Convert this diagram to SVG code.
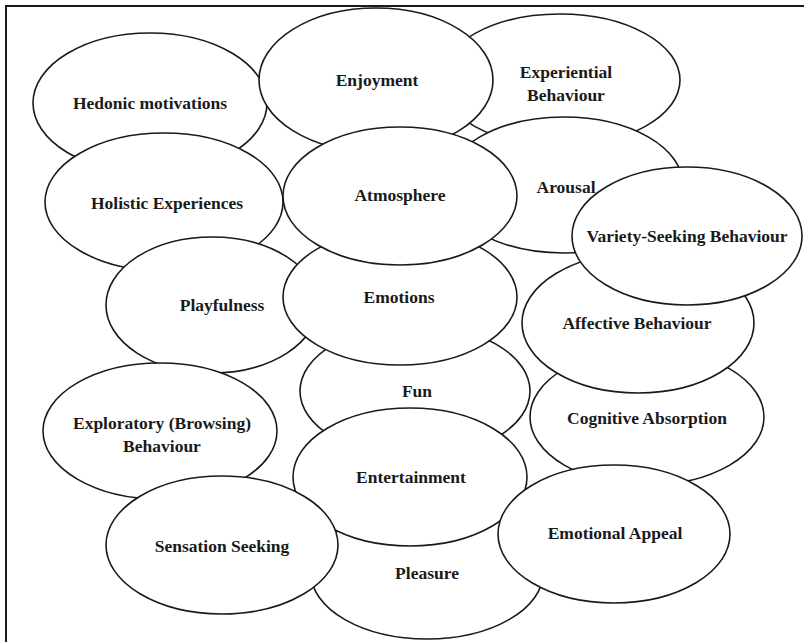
<svg xmlns="http://www.w3.org/2000/svg" width="804" height="642" viewBox="0 0 804 642">
<style>
  .bg { fill: #ffffff; }
  .frame { fill: none; stroke: #1a1a1a; stroke-width: 2; }
  .node ellipse { fill: #ffffff; stroke: #1a1a1a; stroke-width: 1.6; }
  .node text { font-family: "Liberation Serif", "Times New Roman", serif; font-weight: bold; font-size: 17.5px; fill: #1a1a1a; text-anchor: middle; }
</style>
<rect class="bg" x="0" y="0" width="804" height="642"/>
<rect class="frame" x="6" y="6" width="810" height="650"/>
<g id="connectors"></g>
<g id="hedonic" class="node"><ellipse cx="150" cy="103" rx="117" ry="70"/><text x="150" y="109">Hedonic motivations</text></g>
<g id="experiential" class="node"><ellipse cx="560" cy="80" rx="120" ry="66"/><text x="566" y="78">Experiential</text><text x="566" y="101">Behaviour</text></g>
<g id="enjoyment" class="node"><ellipse cx="376" cy="80" rx="117" ry="72"/><text x="377" y="86">Enjoyment</text></g>
<g id="arousal" class="node"><ellipse cx="564" cy="185" rx="119" ry="68"/><text x="566" y="193">Arousal</text></g>
<g id="holistic" class="node"><ellipse cx="164" cy="202" rx="119" ry="69"/><text x="167" y="209">Holistic Experiences</text></g>
<g id="playfulness" class="node"><ellipse cx="212" cy="305" rx="106" ry="68"/><text x="222" y="311">Playfulness</text></g>
<g id="fun" class="node"><ellipse cx="415" cy="391" rx="115" ry="66"/><text x="417" y="397">Fun</text></g>
<g id="emotions" class="node"><ellipse cx="400" cy="297" rx="117" ry="68"/><text x="399" y="303">Emotions</text></g>
<g id="atmosphere" class="node"><ellipse cx="400" cy="196" rx="117" ry="69"/><text x="400" y="201">Atmosphere</text></g>
<g id="cognitive" class="node"><ellipse cx="647" cy="417" rx="117" ry="68"/><text x="647" y="424">Cognitive Absorption</text></g>
<g id="affective" class="node"><ellipse cx="638" cy="323" rx="116" ry="70"/><text x="637" y="329">Affective Behaviour</text></g>
<g id="variety" class="node"><ellipse cx="687" cy="236" rx="115" ry="69"/><text x="687" y="242">Variety-Seeking Behaviour</text></g>
<g id="exploratory" class="node"><ellipse cx="160" cy="431" rx="117" ry="68"/><text x="162" y="429">Exploratory (Browsing)</text><text x="162" y="452">Behaviour</text></g>
<g id="pleasure" class="node"><ellipse cx="427" cy="573" rx="116" ry="66"/><text x="427" y="579">Pleasure</text></g>
<g id="entertainment" class="node"><ellipse cx="410" cy="477" rx="117" ry="69"/><text x="411" y="483">Entertainment</text></g>
<g id="sensation" class="node"><ellipse cx="222" cy="545" rx="116" ry="69"/><text x="222" y="552">Sensation Seeking</text></g>
<g id="emotional-appeal" class="node"><ellipse cx="614" cy="534" rx="116" ry="69"/><text x="615" y="539">Emotional Appeal</text></g>
</svg>
